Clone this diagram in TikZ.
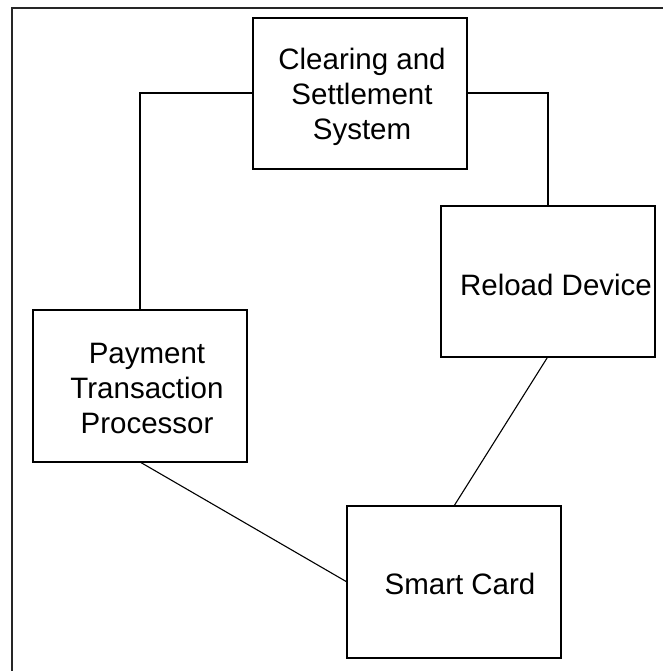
\documentclass[tikz,border=0pt]{standalone}
\usepackage{fontspec}
\setmainfont{Liberation Sans}
\begin{document}
\begin{tikzpicture}[x=1pt,y=-1pt,
  box/.style={draw=black,line width=2pt,minimum width=214pt,minimum height=151pt,inner sep=0pt,outer sep=0pt},
  lbl/.style={font=\fontsize{29.5}{35}\selectfont,align=center,inner sep=0pt},
  tie/.style={draw=black,line width=2pt},
  thin/.style={draw=black,line width=1.1pt}]
\useasboundingbox (0,0) rectangle (662,671);
\draw[line width=2pt,draw=black!85] (12,672) -- (12,8) -- (663,8);
\node[box] (clear) at (360,93.5) {};
\node[box] (reload) at (548,281) {};
\node[box,minimum height=152pt] (ptp) at (140,386) {};
\node[box,minimum height=152pt] (sc) at (454,582) {};
\node[lbl] (clearT) at (362,97) {Clearing and\\Settlement\\System};
\node[lbl] (reloadT) at (556,285) {Reload Device};
\node[lbl] (ptpT) at (147,388) {Payment\\Transaction\\Processor};
\node[lbl] (scT) at (460,584) {Smart Card};
\draw[tie] (clear.west) -| (ptp.north);
\draw[tie] (clear.east) -| (reload.north);
\draw[thin] (ptp.south) -- (sc.west);
\draw[thin] (reload.south) -- (sc.north);
\end{tikzpicture}
\end{document}
